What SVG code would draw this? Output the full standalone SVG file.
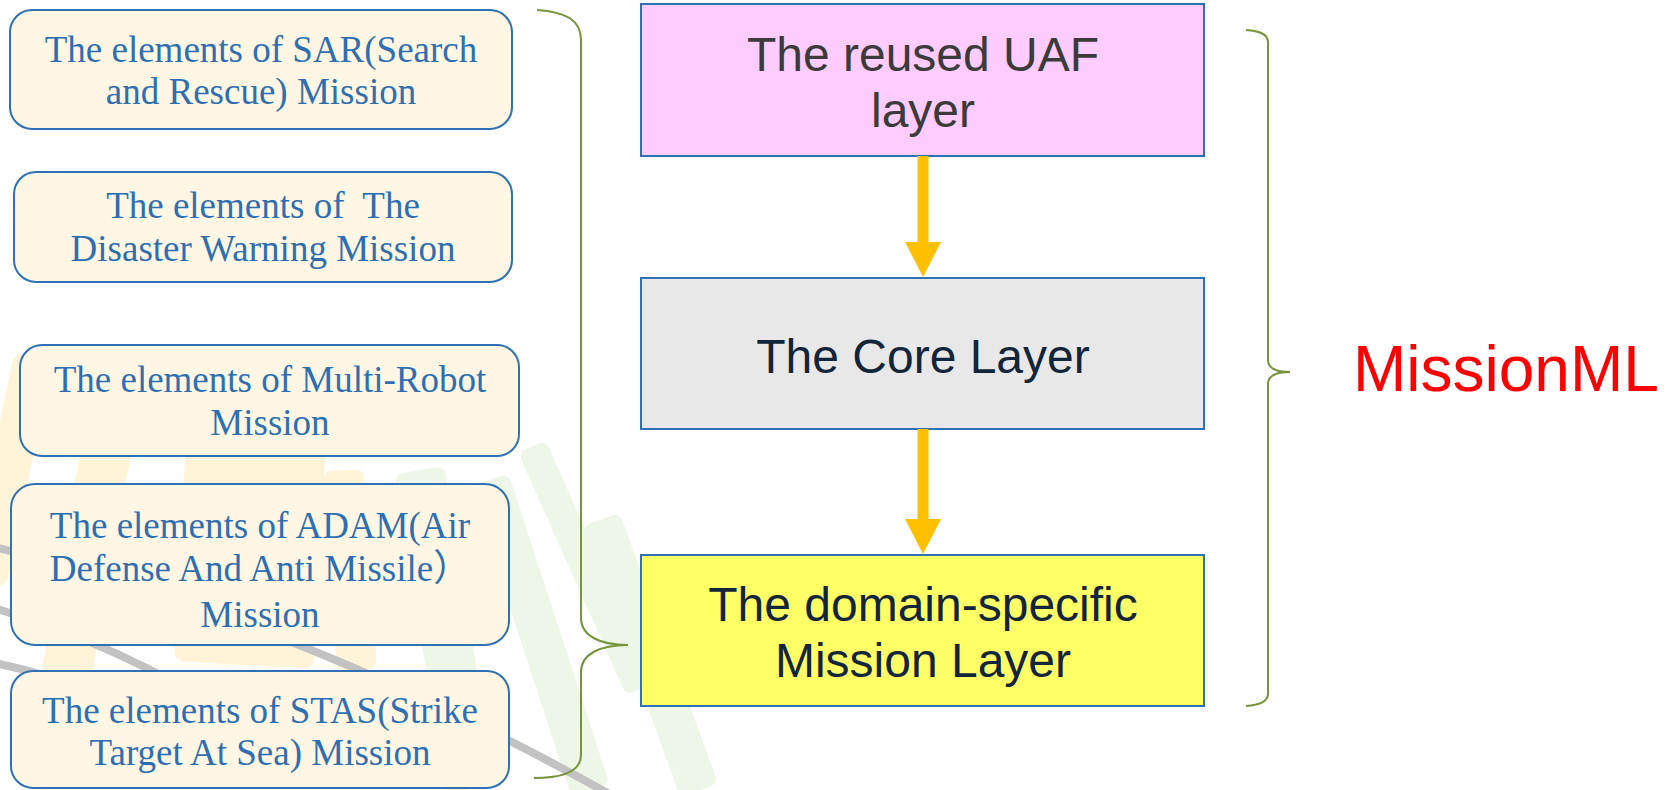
<svg xmlns="http://www.w3.org/2000/svg" width="1666" height="790" viewBox="0 0 1666 790">
  <style>
    .elem rect { fill: #FFF7E4; stroke: #2E71B4; stroke-width: 2; }
    .elem text { font-family: "Liberation Serif", "Times New Roman", "Noto Sans CJK SC", serif; font-size: 37px; fill: #2E6FB3; text-anchor: middle; }
    .layer rect { stroke: #2E71B4; stroke-width: 2; }
    .layer text { font-family: "Liberation Sans", Arial, sans-serif; font-size: 48px; text-anchor: middle; }
    .brace { fill: none; stroke: #77933C; stroke-width: 2; }
    .flow { stroke: #FFC000; stroke-width: 11; marker-end: url(#head); }
    .wm-y { fill: #FFF3D8; }
    .wm-g { fill: #EEF6E8; }
    .wm-l { fill: none; stroke: #C2C2C2; stroke-width: 8; }
  </style>
  <defs>
    <marker id="head" markerUnits="userSpaceOnUse" markerWidth="36" markerHeight="36" refX="2" refY="18" orient="auto">
      <path d="M0,0 L35,18 L0,36 Z" fill="#FFC000"/>
    </marker>
  </defs>

  <rect width="1666" height="790" fill="#FFFFFF"/>

  <!-- faint background emblem -->
  <g id="emblem">
    <rect class="wm-y" x="-10" y="355" width="40" height="230" rx="8" transform="rotate(12 10 470)"/>
    <rect class="wm-y" x="60" y="440" width="50" height="260" rx="8" transform="rotate(10 85 570)"/>
    <rect class="wm-y" x="180" y="440" width="140" height="225" rx="10" transform="rotate(3 250 552)"/>
    <rect class="wm-y" x="330" y="470" width="40" height="200" rx="8" transform="rotate(-4 350 570)"/>
    <rect class="wm-g" x="571" y="435" width="30" height="266" rx="8" transform="rotate(-24 586 568)"/>
    <rect class="wm-g" x="520" y="472" width="40" height="326" rx="8" transform="rotate(-18 540 635)"/>
    <rect class="wm-g" x="420" y="468" width="50" height="323" rx="8" transform="rotate(-9 445 630)"/>
    <rect class="wm-g" x="630" y="511" width="40" height="288" rx="8" transform="rotate(-20 650 655)"/>
    <path class="wm-l" d="M-10,546 Q300,620 620,800"/>
    <path class="wm-l" d="M-10,607 Q110,640 240,720"/>
    <path class="wm-l" d="M-10,662 Q80,680 150,720"/>
  </g>

  <!-- mission element boxes -->
  <g id="sar" class="elem">
    <rect x="10" y="10" width="502" height="119" rx="22"/>
    <text x="261" y="62">The elements of SAR(Search</text>
    <text x="261" y="104">and Rescue) Mission</text>
  </g>
  <g id="disaster" class="elem">
    <rect x="14" y="172" width="498" height="110" rx="22"/>
    <text x="263" y="218" xml:space="preserve">The elements of  The</text>
    <text x="263" y="261">Disaster Warning Mission</text>
  </g>
  <g id="multirobot" class="elem">
    <rect x="20" y="345" width="499" height="111" rx="22"/>
    <text x="270" y="392">The elements of Multi-Robot</text>
    <text x="270" y="435">Mission</text>
  </g>
  <g id="adam" class="elem">
    <rect x="11" y="484" width="498" height="161" rx="24"/>
    <text x="260" y="538">The elements of ADAM(Air</text>
    <text x="260" y="581">Defense And Anti Missile）</text>
    <text x="260" y="627">Mission</text>
  </g>
  <g id="stas" class="elem">
    <rect x="11" y="671" width="498" height="117" rx="22"/>
    <text x="260" y="723">The elements of STAS(Strike</text>
    <text x="260" y="765">Target At Sea) Mission</text>
  </g>

  <!-- layer stack -->
  <g id="uaf" class="layer">
    <rect x="641" y="4" width="563" height="152" fill="#FFCCFF"/>
    <text x="923" y="71" fill="#3B3B3B">The reused UAF</text>
    <text x="923" y="127" fill="#3B3B3B">layer</text>
  </g>
  <g id="core" class="layer">
    <rect x="641" y="278" width="563" height="151" fill="#E8E8E8"/>
    <text x="923" y="373" fill="#13253A">The Core Layer</text>
  </g>
  <g id="domain" class="layer">
    <rect x="641" y="555" width="563" height="151" fill="#FFFF66"/>
    <text x="923" y="621" fill="#13253A">The domain-specific</text>
    <text x="923" y="677" fill="#13253A">Mission Layer</text>
  </g>

  <g id="missionml">
    <text x="1353" y="391" font-family="Liberation Sans, Arial, sans-serif" font-size="64" fill="#FF0000">MissionML</text>
  </g>

  <!-- connectors -->
  <g id="connectors">
    <line class="flow" x1="923" y1="156" x2="923" y2="244"/>
    <line class="flow" x1="923" y1="429" x2="923" y2="521"/>
    <path class="brace" d="M537,10 C566,12 581,20 581,40 L581,618 C581,636 600,645 628,645 C600,645 581,654 581,672 L581,755 C581,770 566,778 534,778"/>
    <path class="brace" d="M1246,30 C1260,31 1268,34 1268,42 L1268,360 C1268,368 1276,372 1290,372 C1276,372 1268,376 1268,384 L1268,694 C1268,701 1260,705 1246,706"/>
  </g>
</svg>
